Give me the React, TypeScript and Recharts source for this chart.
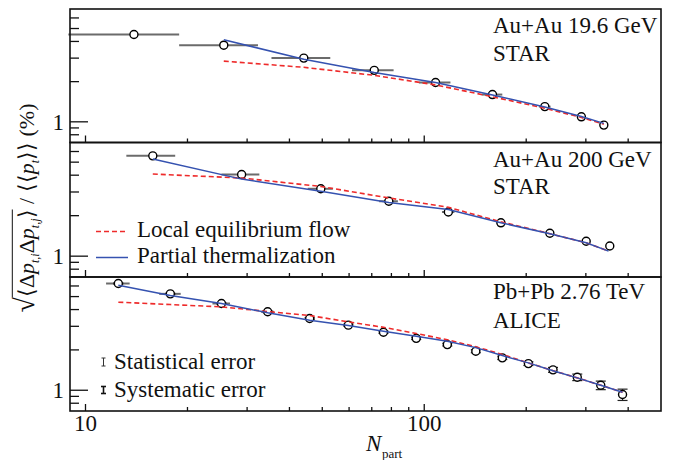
import React from "react";
import { ComposedChart, Scatter, XAxis, YAxis, ErrorBar } from "recharts";

// N_part ticks and log-y ticks shared by all panels
const xTicks = [10, 20, 30, 40, 50, 60, 70, 80, 90, 100, 200, 300, 400];
const yTicks = [0.8, 0.9, 1, 2, 3, 4, 5, 6];

// Au+Au 19.6 GeV STAR
const npStar19 = [13.9, 25.6, 44.1, 71.2, 108, 159, 227, 291, 339];
const valStar19 = [4.51, 3.75, 3.0, 2.43, 1.97, 1.6, 1.3, 1.09, 0.945];
const xErrStar19 = [5, 6.7, 8.7, 10, 11.5, 11, 9, 7, 5];
const npCurveStar19 = [25.6, 44.1, 71.2, 108, 159, 227, 291, 339];
const partialStar19 = [4.12, 2.94, 2.34, 1.97, 1.59, 1.29, 1.097, 0.973];
const localStar19 = [2.85, 2.56, 2.23, 1.89, 1.54, 1.265, 1.078, 0.961];

// Au+Au 200 GeV STAR
const npStar200 = [15.8, 28.9, 49.5, 78.6, 117.8, 168.4, 234.9, 300.7, 353];
const valStar200 = [5.57, 4.05, 3.17, 2.56, 2.13, 1.77, 1.48, 1.29, 1.19];
const xErrStar200 = [2.6, 3.7, 4.2, 5, 5, 5, 5, 5, 5];
const npCurveStar200 = [15.8, 28.9, 49.5, 78.6, 117.8, 168.4, 234.9, 300.7, 350];
const partialStar200 = [5.27, 3.74, 3.04, 2.51, 2.22, 1.77, 1.47, 1.257, 1.09];
const localStar200 = [4.08, 3.81, 3.3, 2.71, 2.31, 1.8, 1.47, 1.257, 1.09];

// Pb+Pb 2.76 TeV ALICE
const npAlice = [12.5, 17.8, 25.2, 34.5, 45.9, 59.7, 75.8, 94.7, 117, 142, 170, 203, 240, 283, 332, 385];
const valAlice = [6.26, 5.24, 4.44, 3.85, 3.43, 3.06, 2.71, 2.44, 2.19, 1.955, 1.745, 1.58, 1.42, 1.25, 1.09, 0.929];
const xErrAlice = [1, 1.3, 1.5, 1.5, 1.5, 2, 2, 2, 2, 2, 2, 2, 2, 2, 2, 2];
const sysErrAlice = [0.06, 0.05, 0.05, 0.05, 0.05, 0.05, 0.05, 0.05, 0.05, 0.05, 0.05, 0.05, 0.06, 0.07, 0.08, 0.09];
const partialAlice = [6.08, 5.09, 4.44, 3.78, 3.33, 3.04, 2.76, 2.53, 2.32, 2.08, 1.815, 1.6, 1.4, 1.237, 1.09, 0.966];
const localAlice = [4.54, 4.36, 4.19, 3.87, 3.61, 3.24, 2.95, 2.65, 2.38, 2.11, 1.85, 1.6, 1.4, 1.237, 1.09, 0.966];

const W = 683;
const H = 460;
const LEFT = 70;
const RIGHT = 661;
const YW = 60; // y axis width, plot starts at LEFT
const XH = 30; // x axis height below each panel
const FONT = "'Liberation Serif', 'Times New Roman', serif";
const BLUE = "#3552b0";
const RED = "#ee2b2b";

const YTick = (props: any) => {
  const { x, y, payload } = props;
  const major = payload.value === 1;
  return (
    <g>
      <line x1={x} x2={x + (major ? 18 : 9)} y1={y} y2={y} stroke="#111" strokeWidth={1.3} />
      {major && (
        <text x={x - 6} y={y} dy="0.35em" textAnchor="end" fontSize={23} fontFamily={FONT} fill="#111">
          1
        </text>
      )}
    </g>
  );
};

const makeXTick = (labels: boolean) => (props: any) => {
  const { x, y, payload } = props;
  const major = payload.value === 10 || payload.value === 100;
  return (
    <g>
      <line x1={x} x2={x} y1={y} y2={y - (major ? 7 : 4)} stroke="#111" strokeWidth={1.3} />
      {labels && major && (
        <text x={x} y={y + 20} textAnchor="middle" fontSize={23} fontFamily={FONT} fill="#111">
          {payload.value}
        </text>
      )}
    </g>
  );
};

const Dot = (props: any) => (
  <circle cx={props.cx} cy={props.cy} r={4} fill="#fff" stroke="#000" strokeWidth={1.4} />
);

const Empty = () => <g />;

interface PanelProps {
  np: number[];
  val: number[];
  xErr: number[];
  sysErr?: number[];
  npCurve: number[];
  partial: number[];
  local: number[];
  top: number;
  bottom: number;
  labels: boolean;
}

function Panel({ np, val, xErr, sysErr, npCurve, partial, local, top, bottom, labels }: PanelProps) {
  const points = np.map((x, i) => ({ x, y: val[i], ex: xErr[i], ey: sysErr ? sysErr[i] : 0 }));
  const partialLine = npCurve.map((x, i) => ({ x, y: partial[i] }));
  const localLine = npCurve.map((x, i) => ({ x, y: local[i] }));
  return (
    <div style={{ position: "absolute", left: 0, top: 0 }}>
      <ComposedChart
        width={W}
        height={H}
        margin={{ top, bottom: H - bottom - XH, left: LEFT - YW, right: W - RIGHT }}
      >
        <XAxis
          dataKey="x"
          type="number"
          scale="log"
          domain={[9, 500]}
          allowDataOverflow
          ticks={xTicks}
          interval={0}
          height={XH}
          tickSize={0}
          tickMargin={0}
          axisLine={false}
          tickLine={false}
          tick={makeXTick(labels)}
        />
        <YAxis
          dataKey="y"
          type="number"
          scale="log"
          domain={[0.7, 7]}
          allowDataOverflow
          ticks={yTicks}
          interval={0}
          width={YW}
          tickSize={0}
          tickMargin={0}
          axisLine={false}
          tickLine={false}
          tick={YTick}
        />
        <Scatter data={points} shape={Dot} isAnimationActive={false}>
          <ErrorBar dataKey="ex" direction="x" width={0} stroke="#6b6b6b" strokeWidth={2} />
          {sysErr && <ErrorBar dataKey="ey" direction="y" width={5} stroke="#222" strokeWidth={1.2} />}
        </Scatter>
        <Scatter
          data={localLine}
          shape={Empty}
          line={{ stroke: RED, strokeWidth: 1.6, strokeDasharray: "5 3" }}
          isAnimationActive={false}
        />
        <Scatter
          data={partialLine}
          shape={Empty}
          line={{ stroke: BLUE, strokeWidth: 1.5 }}
          isAnimationActive={false}
        />
      </ComposedChart>
    </div>
  );
}

const bounds = [9, 142.5, 277, 411];

export default function App() {
  const txt = { fontFamily: FONT, fontSize: 23, fill: "#111" };
  return (
    <div style={{ position: "absolute", left: 0, top: 0, width: W, height: H, background: "#fff", fontFamily: FONT }}>
      <Panel np={npStar19} val={valStar19} xErr={xErrStar19} npCurve={npCurveStar19}
        partial={partialStar19} local={localStar19} top={bounds[0]} bottom={bounds[1]} labels={false} />
      <Panel np={npStar200} val={valStar200} xErr={xErrStar200} npCurve={npCurveStar200}
        partial={partialStar200} local={localStar200} top={bounds[1]} bottom={bounds[2]} labels={false} />
      <Panel np={npAlice} val={valAlice} xErr={xErrAlice} sysErr={sysErrAlice} npCurve={npAlice}
        partial={partialAlice} local={localAlice} top={bounds[2]} bottom={bounds[3]} labels={true} />

      <svg width={W} height={H} style={{ position: "absolute", left: 0, top: 0, pointerEvents: "none" }}>
        {[0, 1, 2].map((i) => (
          <rect key={i} x={LEFT} y={bounds[i]} width={RIGHT - LEFT} height={bounds[i + 1] - bounds[i]}
            fill="none" stroke="#111" strokeWidth={1.6} />
        ))}
        <text x={493} y={33} {...txt}>Au+Au 19.6 GeV</text>
        <text x={493} y={61} {...txt}>STAR</text>
        <text x={493} y={167} {...txt}>Au+Au 200 GeV</text>
        <text x={493} y={194} {...txt}>STAR</text>
        <text x={493} y={299} {...txt}>Pb+Pb 2.76 TeV</text>
        <text x={493} y={328} {...txt}>ALICE</text>

        {/* model legend */}
        <line x1={96} x2={128} y1={231.5} y2={231.5} stroke={RED} strokeWidth={1.6} strokeDasharray="5 3" />
        <text x={137} y={237} {...txt}>Local equilibrium flow</text>
        <line x1={96} x2={128} y1={257.5} y2={257.5} stroke={BLUE} strokeWidth={1.5} />
        <text x={137} y={263} {...txt}>Partial thermalization</text>

        {/* error legend */}
        <g stroke="#333" strokeWidth={1}>
          <line x1={103.5} x2={103.5} y1={358} y2={366} />
          <line x1={101.5} x2={105.5} y1={358} y2={358} />
          <line x1={101.5} x2={105.5} y1={366} y2={366} />
        </g>
        <text x={114} y={369} {...txt}>Statistical error</text>
        <g stroke="#111" strokeWidth={1.6}>
          <line x1={103.5} x2={103.5} y1={386} y2={394} />
          <line x1={101} x2={106} y1={386.5} y2={386.5} />
          <line x1={101} x2={106} y1={393.5} y2={393.5} />
        </g>
        <text x={114} y={397} {...txt}>Systematic error</text>

        <text x={366} y={451} fontFamily={FONT} fontSize={23} fontStyle="italic" fill="#111">N</text>
        <text x={382} y={458} fontFamily={FONT} fontSize={13} fill="#111">part</text>
      </svg>

      <div
        style={{
          position: "absolute",
          left: 30,
          top: 208,
          transform: "translate(-50%, -50%) rotate(-90deg)",
          whiteSpace: "nowrap",
          fontSize: 22,
          color: "#111",
          lineHeight: "26px",
        }}
      >
        <span style={{ fontSize: 28 }}>√</span>
        <span style={{ borderTop: "1.4px solid #111", paddingTop: 1 }}>
          ⟨Δ<i>p</i><sub style={{ fontSize: 12 }}><i>t,i</i></sub>Δ<i>p</i><sub style={{ fontSize: 12 }}><i>t,j</i></sub>⟩
        </span>
        {" / ⟨⟨"}<i>p</i><sub style={{ fontSize: 12 }}><i>t</i></sub>{"⟩⟩  (%)"}
      </div>
    </div>
  );
}
